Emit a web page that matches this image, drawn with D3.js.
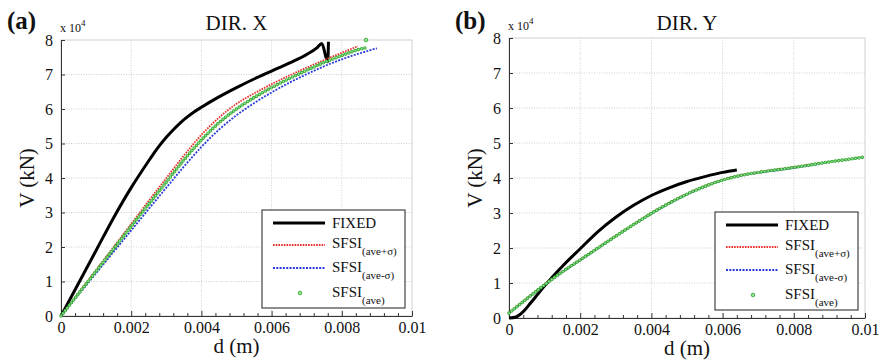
<!DOCTYPE html>
<html>
<head>
<meta charset="utf-8">
<script src="https://cdn.jsdelivr.net/npm/d3@7"></script>
<style>
  body { margin: 0; background: #fff; }
  text { font-family: "Liberation Serif", "Times New Roman", serif; fill: #111; }
</style>
</head>
<body>
<svg id="chart" width="879" height="363"></svg>
<script>
// x ticks (d in m) and y ticks (V in 1e4 kN)
const xMajor = [0, 0.002, 0.004, 0.006, 0.008, 0.01];
const xTickLabels = ["0", "0.002", "0.004", "0.006", "0.008", "0.01"];
const xMinor = [0.0004, 0.0008, 0.0012, 0.0016, 0.0024, 0.0028, 0.0032, 0.0036,
                0.0044, 0.0048, 0.0052, 0.0056, 0.0064, 0.0068, 0.0072, 0.0076,
                0.0084, 0.0088, 0.0092, 0.0096];
const yMajor = [0, 1, 2, 3, 4, 5, 6, 7, 8];

const seriesNames = ["FIXED", "ave+\u03c3", "ave-\u03c3", "ave"];

// DIR. X  (panel a)
const xFixedD = [0, 0.0005, 0.001, 0.0015, 0.002, 0.0025, 0.0026, 0.0028, 0.003, 0.0032, 0.0034,
                 0.0036, 0.0038, 0.004, 0.0045, 0.005, 0.0055, 0.006, 0.0065, 0.007, 0.0073,
                 0.00743, 0.0076, 0.00762];
const xFixedV = [0, 0.95, 1.9, 2.85, 3.72, 4.5, 4.65, 4.93, 5.18, 5.4, 5.6,
                 5.77, 5.92, 6.05, 6.35, 6.62, 6.87, 7.1, 7.33, 7.58, 7.78,
                 7.9, 7.37, 7.95];
const xPlusD = [0, 0.001, 0.002, 0.003, 0.0035, 0.004, 0.0045, 0.005, 0.0055, 0.006, 0.0065,
                0.007, 0.0075, 0.008, 0.00846];
const xPlusV = [0, 1.33, 2.67, 4.0, 4.65, 5.25, 5.75, 6.15, 6.45, 6.72, 6.97,
                7.2, 7.42, 7.63, 7.82];
const xMinusD = [0, 0.001, 0.002, 0.003, 0.0035, 0.004, 0.0045, 0.005, 0.0055, 0.006, 0.0065,
                 0.007, 0.0075, 0.008, 0.0085, 0.009];
const xMinusV = [0, 1.24, 2.48, 3.72, 4.33, 4.9, 5.4, 5.82, 6.17, 6.48, 6.76,
                 7.01, 7.24, 7.44, 7.61, 7.76];
const xAveD = [0, 0.001, 0.002, 0.003, 0.0035, 0.004, 0.0045, 0.005, 0.0055, 0.006, 0.0065,
               0.007, 0.0075, 0.008, 0.0085, 0.00866];
const xAveV = [0, 1.3, 2.6, 3.88, 4.52, 5.1, 5.6, 6.0, 6.33, 6.62, 6.88,
               7.12, 7.35, 7.55, 7.73, 7.77];
const xAveExtra = [[0.00869, 8.0]];

// DIR. Y  (panel b)
const yFixedD = [0, 0.0002, 0.0004, 0.0006, 0.0008, 0.001, 0.0012, 0.0015, 0.002, 0.0025,
                 0.003, 0.0035, 0.004, 0.0045, 0.005, 0.0055, 0.006, 0.0064];
const yFixedV = [0, 0.03, 0.18, 0.42, 0.67, 0.92, 1.15, 1.48, 1.98, 2.47,
                 2.88, 3.22, 3.5, 3.72, 3.9, 4.04, 4.16, 4.23];
const yPlusD = [0, 0.0005, 0.001, 0.0015, 0.002, 0.0025, 0.003, 0.0035, 0.004, 0.0045, 0.005,
                0.0055, 0.006, 0.0065, 0.007, 0.0075, 0.008, 0.0085];
const yPlusV = [0.15, 0.56, 0.96, 1.33, 1.67, 2.01, 2.35, 2.68, 3.0, 3.29, 3.55,
                3.77, 3.95, 4.08, 4.17, 4.24, 4.31, 4.39];
const yMinusD = [0, 0.0005, 0.001, 0.0015, 0.002, 0.0025, 0.003, 0.0035, 0.004, 0.0045, 0.005,
                 0.0055, 0.006, 0.0065, 0.007, 0.0075, 0.008, 0.0085, 0.009, 0.0098];
const yMinusV = [0.13, 0.54, 0.94, 1.31, 1.65, 1.99, 2.33, 2.66, 2.98, 3.27, 3.53,
                 3.75, 3.93, 4.06, 4.15, 4.22, 4.29, 4.37, 4.45, 4.57];
const yAveD = [0, 0.0005, 0.001, 0.0015, 0.002, 0.0025, 0.003, 0.0035, 0.004, 0.0045, 0.005,
               0.0055, 0.006, 0.0065, 0.007, 0.0075, 0.008, 0.0085, 0.009, 0.0095, 0.01];
const yAveV = [0.14, 0.55, 0.95, 1.32, 1.66, 2.0, 2.34, 2.67, 2.99, 3.28, 3.54,
               3.76, 3.94, 4.07, 4.16, 4.23, 4.3, 4.38, 4.46, 4.53, 4.6];

const svg = d3.select("#chart");

const panels = [
  { tag: "(a)", title: "DIR. X", left: 61, right: 412, top: 40, bottom: 316, tagX: 7,
    fixed: d3.zip(xFixedD, xFixedV), plus: d3.zip(xPlusD, xPlusV),
    minus: d3.zip(xMinusD, xMinusV), ave: d3.zip(xAveD, xAveV), extra: xAveExtra },
  { tag: "(b)", title: "DIR. Y", left: 509, right: 865, top: 38, bottom: 318, tagX: 455,
    fixed: d3.zip(yFixedD, yFixedV), plus: d3.zip(yPlusD, yPlusV),
    minus: d3.zip(yMinusD, yMinusV), ave: d3.zip(yAveD, yAveV), extra: [] }
];

function greenDots(sel) {
  sel.attr("fill", "none").attr("stroke-linecap", "round");
}

function drawPanel(p) {
  const g = svg.append("g");
  const x = d3.scaleLinear().domain([0, 0.01]).range([p.left, p.right]);
  const y = d3.scaleLinear().domain([0, 8]).range([p.bottom, p.top]);

  // grid
  g.append("g").selectAll("line").data(xMajor.slice(1, -1)).join("line")
    .attr("x1", d => x(d)).attr("x2", d => x(d))
    .attr("y1", p.top).attr("y2", p.bottom)
    .attr("stroke", "#cfcfcf").attr("stroke-dasharray", "1,1.5");
  g.append("g").selectAll("line").data(yMajor.slice(1, -1)).join("line")
    .attr("x1", p.left).attr("x2", p.right)
    .attr("y1", d => y(d)).attr("y2", d => y(d))
    .attr("stroke", "#cfcfcf").attr("stroke-dasharray", "1,1.5");
  g.append("rect")
    .attr("x", p.left).attr("y", p.top)
    .attr("width", p.right - p.left).attr("height", p.bottom - p.top)
    .attr("fill", "none").attr("stroke", "#d0d0d0");

  // axes
  g.append("g").attr("transform", `translate(0,${p.bottom})`)
    .call(d3.axisBottom(x).tickValues(xMajor).tickSize(-5).tickSizeOuter(0).tickPadding(6)
      .tickFormat((d, i) => xTickLabels[i]));
  g.append("g").attr("transform", `translate(0,${p.bottom})`)
    .call(d3.axisBottom(x).tickValues(xMinor).tickSize(-3).tickSizeOuter(0).tickFormat(""))
    .select(".domain").remove();
  g.append("g").attr("transform", `translate(${p.left},0)`)
    .call(d3.axisLeft(y).tickValues(yMajor).tickSize(-4).tickSizeOuter(0).tickPadding(8));
  g.selectAll(".domain").attr("stroke", "#333");
  g.selectAll(".tick line").attr("stroke", "#333");
  g.selectAll(".tick text").attr("font-family", "Liberation Serif").attr("font-size", 16).attr("fill", "#111");

  // series
  const line = d3.line().x(d => x(d[0])).y(d => y(d[1])).curve(d3.curveMonotoneX);
  g.append("path").datum(p.fixed).attr("d", line)
    .attr("fill", "none").attr("stroke", "#000").attr("stroke-width", 3).attr("stroke-linejoin", "round");
  g.append("path").datum(p.plus).attr("d", line)
    .attr("fill", "none").attr("stroke", "#e8302a").attr("stroke-width", 1.8).attr("stroke-dasharray", "1.6,1.1");
  g.append("path").datum(p.minus).attr("d", line)
    .attr("fill", "none").attr("stroke", "#2a3ad8").attr("stroke-width", 1.8).attr("stroke-dasharray", "2,1.3");
  g.append("path").datum(p.ave).attr("d", line).call(greenDots)
    .attr("stroke", "#3aa83a").attr("stroke-width", 3.6).attr("stroke-dasharray", "0,3.4");
  g.append("path").datum(p.ave).attr("d", line).call(greenDots)
    .attr("stroke", "#8ee88a").attr("stroke-width", 1.8).attr("stroke-dasharray", "0,3.4");
  g.selectAll(".extra").data(p.extra).join("circle").attr("class", "extra")
    .attr("cx", d => x(d[0])).attr("cy", d => y(d[1])).attr("r", 1.8)
    .attr("fill", "#8ee88a").attr("stroke", "#3aa83a").attr("stroke-width", 0.9);

  // texts
  const cx = (p.left + p.right) / 2;
  g.append("text").attr("x", p.tagX).attr("y", 29).attr("font-size", 25).attr("font-weight", "bold").text(p.tag);
  const mult = g.append("text").attr("x", p.left - 1).attr("y", p.top - 8).attr("font-size", 12);
  mult.append("tspan").text("x 10");
  mult.append("tspan").attr("dy", -6).attr("font-size", 9).text("4");
  g.append("text").attr("x", cx).attr("y", 30).attr("text-anchor", "middle").attr("font-size", 21).text(p.title);
  g.append("text").attr("x", cx).attr("y", p.bottom + 37).attr("text-anchor", "middle").attr("font-size", 21).text("d (m)");
  g.append("text").attr("transform", `translate(${p.left - 27},${(p.top + p.bottom) / 2}) rotate(-90)`)
    .attr("text-anchor", "middle").attr("font-size", 21).text("V (kN)");

  // legend
  const lw = 143, lh = 98;
  const lg = g.append("g").attr("transform", `translate(${p.right - 7 - lw},${p.bottom - 8 - lh})`);
  lg.append("rect").attr("width", lw).attr("height", lh).attr("fill", "#fff").attr("stroke", "#444").attr("stroke-width", 1.2);
  lg.append("line").attr("x1", 11).attr("x2", 63).attr("y1", 13).attr("y2", 13).attr("stroke", "#000").attr("stroke-width", 3);
  lg.append("line").attr("x1", 11).attr("x2", 63).attr("y1", 35).attr("y2", 35)
    .attr("stroke", "#e8302a").attr("stroke-width", 1.8).attr("stroke-dasharray", "1.6,1.1");
  lg.append("line").attr("x1", 11).attr("x2", 63).attr("y1", 58).attr("y2", 58)
    .attr("stroke", "#2a3ad8").attr("stroke-width", 1.8).attr("stroke-dasharray", "2,1.3");
  lg.append("circle").attr("cx", 38).attr("cy", 83).attr("r", 1.8)
    .attr("fill", "#8ee88a").attr("stroke", "#3aa83a").attr("stroke-width", 0.9);
  lg.append("text").attr("x", 70).attr("y", 18).attr("font-size", 15).text(seriesNames[0]);
  [[38, 1], [62, 2], [87, 3]].forEach(([by, i]) => {
    const t = lg.append("text").attr("x", 70).attr("y", by).attr("font-size", 15);
    t.append("tspan").text("SFSI");
    t.append("tspan").attr("dy", 7).attr("font-size", 11).text("(" + seriesNames[i] + ")");
  });
}

panels.forEach(drawPanel);
</script>
</body>
</html>
